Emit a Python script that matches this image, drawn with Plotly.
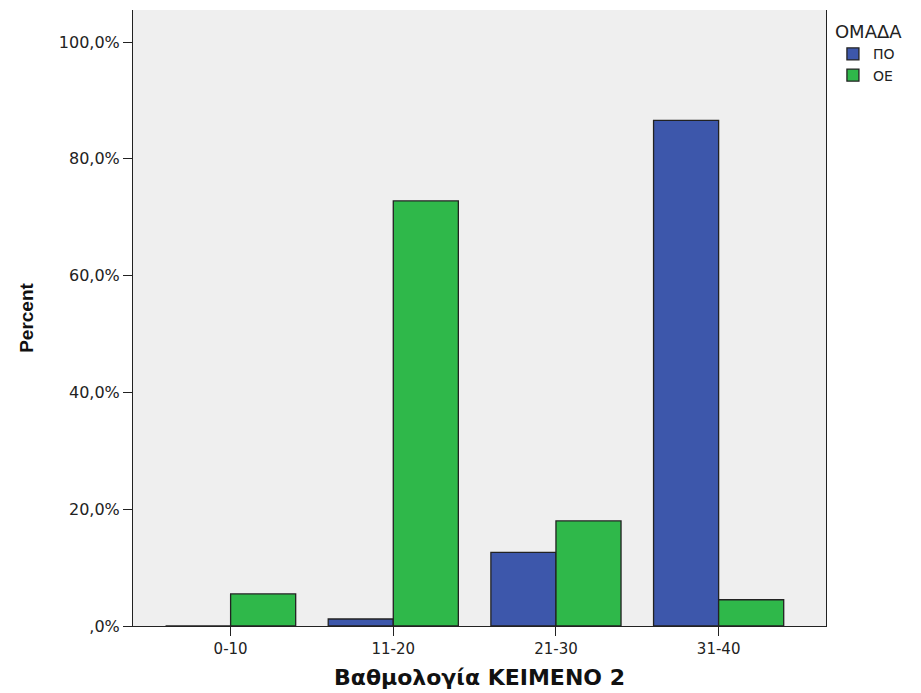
import plotly.graph_objects as go

categories = ["0-10", "11-20", "21-30", "31-40"]
po_values = [0.0, 1.2, 12.6, 86.6]
oe_values = [5.5, 72.8, 18.0, 4.5]
tick_vals = [0, 20, 40, 60, 80, 100]
tick_text = [",0%", "20,0%", "40,0%", "60,0%", "80,0%", "100,0%"]

fig = go.Figure()
fig.add_trace(go.Bar(x=categories, y=po_values, name="ΠΟ",
                     marker=dict(color="#3D57AB", line=dict(color="#222222", width=1.3))))
fig.add_trace(go.Bar(x=categories, y=oe_values, name="ΟΕ",
                     marker=dict(color="#2FB84A", line=dict(color="#222222", width=1.3))))

fig.update_layout(
    width=913, height=685,
    barmode="group", bargap=0.2, bargroupgap=0,
    paper_bgcolor="white", plot_bgcolor="#EFEFEF",
    margin=dict(l=125, r=95, t=2, b=67, autoexpand=False),
    font=dict(family="DejaVu Sans, Liberation Sans, sans-serif", size=15, color="#222222"),
    legend=dict(title=dict(text="ΟΜΑΔΑ", font=dict(size=18)), x=1.01, y=0.992,
                xanchor="left", yanchor="top", font=dict(size=14),
                itemwidth=30, tracegroupgap=0, bgcolor="rgba(0,0,0,0)"),
    xaxis=dict(range=[-0.6, 3.66], showline=True, linecolor="#222222", linewidth=1,
               ticks="outside", ticklen=9, tickcolor="#222222", showgrid=False,
               mirror=False, tickfont=dict(size=15),
               title=dict(text="<b>Βαθμολογία ΚΕΙΜΕΝΟ 2</b>",
                          font=dict(size=22, color="#111111"), standoff=12)),
    yaxis=dict(range=[0, 105.5], tickvals=tick_vals, ticktext=tick_text,
               showline=True, linecolor="#222222", linewidth=1, mirror=True,
               ticks="outside", ticklen=9, tickcolor="#222222", showgrid=False,
               zeroline=False, tickfont=dict(size=16),
               title=dict(text="<b>Percent</b>",
                          font=dict(family="Liberation Sans, Arial, sans-serif", size=19,
                                    color="#111111"), standoff=20)),
)

fig.write_html("out.html")
